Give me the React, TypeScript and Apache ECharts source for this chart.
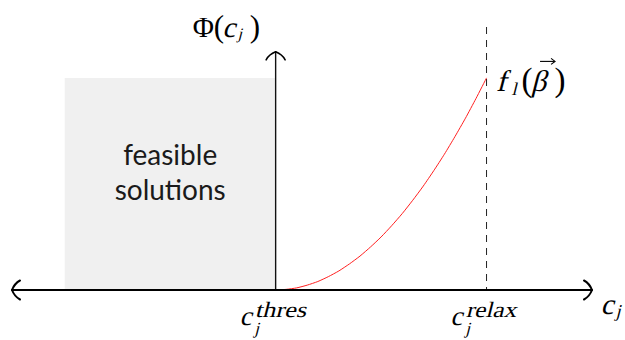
import React, { useEffect, useRef } from "react";
import * as echarts from "echarts";

// Domain of the sketch (c_j on x, Φ(c_j) on y)
const axisXRange = [-1.25, 1.5];
const axisYTop = 1.123;
const dashTop = 1.24;
const cThres = 0;
const cRelax = 1;
const feasibleX = [-1, 0];
const feasibleTop = 1;

// Red penalty curve
const curveX = [0, 0.05, 0.1, 0.15, 0.2, 0.25, 0.3, 0.35, 0.4, 0.45, 0.5, 0.55, 0.6, 0.65, 0.7, 0.75, 0.8, 0.85, 0.9, 0.95, 1];
const curveY = [0, 0.003, 0.01, 0.023, 0.04, 0.063, 0.09, 0.123, 0.16, 0.203, 0.25, 0.303, 0.36, 0.423, 0.49, 0.563, 0.64, 0.723, 0.81, 0.903, 1];

// Texts
const feasibleText = "feasible\nsolutions";
const thresSup = "thres";
const relaxSup = "relax";

const SERIF = '"Liberation Serif", serif';

export default function App() {
  const ref = useRef<HTMLDivElement>(null);

  useEffect(() => {
    document.body.style.margin = "0";
    const chart = echarts.init(ref.current!, null, { renderer: "svg" });
    chart.setOption({
      animation: false,
      grid: { left: 12, right: 33, top: 27, bottom: 50 },
      xAxis: { type: "value", min: axisXRange[0], max: axisXRange[1], show: false },
      yAxis: { type: "value", min: 0, max: dashTop, show: false },
      series: [
        {
          type: "line",
          data: [[feasibleX[0], feasibleTop], [feasibleX[1], feasibleTop]],
          symbol: "none",
          lineStyle: { width: 0, opacity: 0 },
          areaStyle: { color: "#f0f0f0", opacity: 1 },
          clip: false,
          z: 1,
          silent: true,
        },
        {
          type: "line",
          data: [[cRelax, dashTop], [cRelax, 0]],
          symbol: "none",
          lineStyle: { color: "#222", width: 1, type: [7, 6] },
          clip: false,
          z: 2,
          silent: true,
        },
        {
          type: "line",
          data: curveX.map((x, i) => [x, curveY[i]]),
          symbol: "none",
          smooth: 0.2,
          lineStyle: { color: "#ff2020", width: 1 },
          clip: false,
          z: 3,
          silent: true,
        },
        {
          type: "line",
          data: [[cThres, 0], [cThres, axisYTop]],
          symbol: "none",
          lineStyle: { color: "#111", width: 1.4 },
          clip: false,
          z: 4,
          silent: true,
        },
        {
          type: "line",
          data: [[axisXRange[0], 0], [axisXRange[1], 0]],
          symbol: "none",
          lineStyle: { color: "#000", width: 2 },
          clip: false,
          z: 5,
          silent: true,
        },
      ],
    });

    const p = (x: number, y: number) => chart.convertToPixel({ gridIndex: 0 }, [x, y]) as number[];

    const arrowHead = (tip: number[], dir: number[], lw: number) => {
      const [dx, dy] = dir;
      const nx = -dy, ny = dx;
      const L = 8, W = 9.5, cl = 2.5, cw = 6.5;
      return [1, -1].map((s) => ({
        type: "bezierCurve",
        silent: true,
        z: 20,
        shape: {
          x1: tip[0], y1: tip[1],
          x2: tip[0] - dx * L + s * nx * W, y2: tip[1] - dy * L + s * ny * W,
          cpx1: tip[0] - dx * cl + s * nx * cw, cpy1: tip[1] - dy * cl + s * ny * cw,
        },
        style: { stroke: "#000", lineWidth: lw, fill: "none", lineCap: "round" },
      }));
    };

    // "italic" = upright serif glyphs slanted with a skew, since no serif italic face is installed
    const txt = (text: string, x: number, y: number, size: number, italic: boolean, sx = 1) => ({
      type: "text",
      silent: true,
      z: 30,
      x,
      y,
      skewX: italic ? -0.25 : 0,
      scaleX: sx,
      style: {
        text,
        fontFamily: SERIF,
        fontSize: size,
        fill: "#000",
        align: "left",
        verticalAlign: "middle",
        textAlign: "left",
        textVerticalAlign: "middle",
      },
    });

    const L = p(axisXRange[0], 0);
    const E = p(axisXRange[1], 0);
    const Y = p(cThres, axisYTop);
    const O = p(cThres, 0);
    const R = p(cRelax, 0);
    const F = p(cRelax, feasibleTop);
    const M = p((feasibleX[0] + feasibleX[1]) / 2, feasibleTop / 2);

    const graphic: any[] = [
      ...arrowHead(E, [1, 0], 2),
      ...arrowHead(L, [-1, 0], 2),
      ...arrowHead(Y, [0, -1], 1.6),
      // feasible solutions
      {
        type: "text",
        silent: true,
        z: 30,
        x: M[0],
        y: M[1] - 12.3,
        style: {
          text: feasibleText,
          fontFamily: "Lato, sans-serif",
          fontSize: 28,
          lineHeight: 35,
          fill: "#1a1a1a",
          align: "center",
          verticalAlign: "middle",
          textAlign: "center",
          textVerticalAlign: "middle",
        },
      },
      // Φ(c_j)
      txt("Φ", Y[0] - 83, Y[1] - 25, 29, false),
      txt("(", Y[0] - 62, Y[1] - 25, 31, false),
      txt("c", Y[0] - 51, Y[1] - 25, 29, true),
      txt("j", Y[0] - 37, Y[1] - 18, 16, true),
      txt(")", Y[0] - 26, Y[1] - 25, 31, false),
      // f_l(β⃗)
      txt("f", F[0] + 12, F[1] + 3, 30, true),
      txt("l", F[0] + 26.5, F[1] + 11, 18, true),
      txt("(", F[0] + 35, F[1] + 2, 33, false),
      txt("β", F[0] + 47, F[1] + 3, 30, true),
      txt(")", F[0] + 68, F[1] + 2, 33, false),
      {
        type: "line",
        silent: true,
        z: 30,
        shape: { x1: F[0] + 53.5, y1: F[1] - 16.5, x2: F[0] + 68, y2: F[1] - 16.5 },
        style: { stroke: "#000", lineWidth: 1.1 },
      },
      {
        type: "polyline",
        silent: true,
        z: 30,
        shape: { points: [[F[0] + 64.5, F[1] - 19.5], [F[0] + 68.5, F[1] - 16.5], [F[0] + 64.5, F[1] - 13.5]] },
        style: { stroke: "#000", lineWidth: 1.1, fill: "none" },
      },
      // c_j^thres
      txt("c", O[0] - 34, O[1] + 26.2, 27, true),
      txt("j", O[0] - 20, O[1] + 38.8, 17, true),
      txt(thresSup, O[0] - 19, O[1] + 19.5, 22, true, 1.2),
      // c_j^relax
      txt("c", R[0] - 34, R[1] + 26.2, 27, true),
      txt("j", R[0] - 20, R[1] + 38.8, 17, true),
      txt(relaxSup, R[0] - 19, R[1] + 19.5, 22, true, 1.15),
      // c_j at end of axis
      txt("c", E[0] + 11, E[1] + 14, 29, true),
      txt("j", E[0] + 25, E[1] + 21, 18, true),
    ];

    chart.setOption({ graphic });

    return () => chart.dispose();
  }, []);

  return <div ref={ref} style={{ width: 625, height: 340 }} />;
}
